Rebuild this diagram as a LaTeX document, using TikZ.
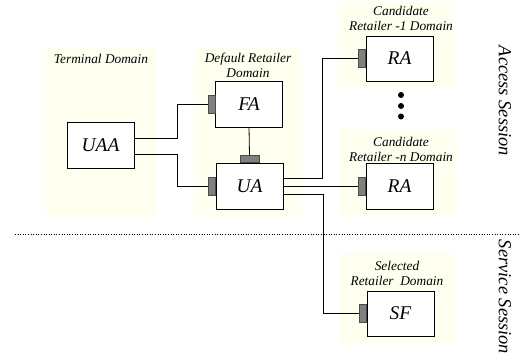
\documentclass[tikz,border=0pt]{standalone}
\usepackage{fontspec}
\setmainfont{LiberationSerif}[Extension=.ttf, UprightFont=*-Regular, ItalicFont=*-Italic]
\usetikzlibrary{positioning}

\definecolor{domfill}{RGB}{255,255,240}
\definecolor{portfill}{RGB}{128,128,128}

\tikzset{
  agent/.style={draw, fill=white, line width=0.9bp, minimum width=67bp,
    minimum height=46bp, inner sep=0, font=\rmfamily\itshape\fontsize{19.5}{19.5}\selectfont},
  vport/.style={draw=black!70, fill=portfill, line width=0.4bp, inner sep=0,
    minimum width=7bp, minimum height=18bp},
  hport/.style={vport, minimum width=19bp, minimum height=7bp},
  domlabel/.style={align=center, font=\rmfamily\itshape\fontsize{13.4}{15}\selectfont},
  session/.style={rotate=-90, font=\rmfamily\itshape\fontsize{18.5}{18.5}\selectfont},
  wire/.style={line width=0.8bp},
}

\begin{document}
\begin{tikzpicture}[x=1bp,y=-1bp]
\useasboundingbox (0,0) rectangle (522,359);

% domains
\fill[domfill] (46,47) rectangle (156,217);
\fill[domfill] (193,47) rectangle (302,217);
\fill[domfill] (338,2) rectangle (454,87);
\fill[domfill] (339,129) rectangle (457,215);
\fill[domfill] (339,253) rectangle (454,343);

\node[domlabel] (termlbl) at (101,59) {Terminal Domain};
\node[domlabel] (deflbl) at (248,65.5) {Default Retailer\\Domain};
\node[domlabel] (cand1lbl) at (401,18.5) {Candidate\\Retailer -1 Domain};
\node[domlabel] (candnlbl) at (401,149.5) {Candidate\\Retailer -n Domain};
\node[domlabel] (sellbl) at (397,273.5) {Selected\\Retailer~~Domain};

% agents
\node[agent] (uaa) at (100.5,145) {UAA};
\node[agent] (fa) at (249,104) {FA};
\node[agent] (ua) at (249.5,186) {UA};
\node[agent, minimum height=45bp] (ra1) at (399.5,58.5) {RA};
\node[agent] (ran) at (399.5,186) {RA};
\node[agent, minimum height=45bp] (sf) at (400.5,313.5) {SF};

% ports
\node[vport, anchor=east] (fap) at (fa.west) {};
\node[vport, anchor=east] (uap) at (ua.west) {};
\node[hport, anchor=south] (uatop) at (ua.north) {};
\node[vport, anchor=east] (ra1p) at (ra1.west) {};
\node[vport, anchor=east] (ranp) at (ran.west) {};
\node[vport, anchor=east] (sfp) at (sf.west) {};

% bends
\coordinate (busL) at (177,0);
\coordinate (busR) at (322,0);
\coordinate (busS) at (323,0);

% connections
\draw[wire] ([yshift=7bp]uaa.east) -| (busL |- fap.west) -- (fap.west);
\draw[wire] ([yshift=-9bp]uaa.east) -| (busL |- uap.west) -- (uap.west);
\draw[wire] (fa.south) -- (uatop.north);
\draw[wire] ([yshift=8bp]ua.east) -| (busR |- ra1p.west) -- (ra1p.west);
\draw[wire] (ua.east) -- (ranp.west);
\draw[wire] ([yshift=-8bp]ua.east) -| (busS |- sfp.west) -- (sfp.west);

% more candidates
\fill (401,95) circle (3);
\fill (401,106) circle (3);
\fill (401,116.5) circle (3);

% sessions
\draw[dotted, line width=0.6bp] (15,234) -- (519,234);
\node[session] (access) at (505,101) {Access Session};
\node[session] (service) at (505,297) {Service Session};

\end{tikzpicture}
\end{document}
